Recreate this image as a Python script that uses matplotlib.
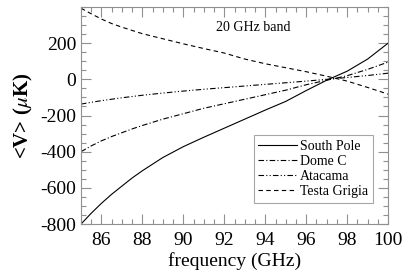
import numpy as np
import matplotlib
matplotlib.use("Agg")
import matplotlib.pyplot as plt
from matplotlib.ticker import MultipleLocator

plt.rcParams['font.family'] = ['Liberation Serif', 'DejaVu Serif']
plt.rcParams['mathtext.fontset'] = 'stix'
plt.rcParams['axes.unicode_minus'] = False

# valori
freq = [85, 85.5, 86, 86.5, 87, 87.5, 88, 89, 90, 91, 92, 93, 94, 95, 96, 97, 98, 99, 100]
south_pole = [-800, -740, -685, -635, -590, -545, -505, -432, -372, -320, -270, -220, -170, -122, -62, -5, 45, 112, 200]
dome_c = [-400, -368, -340, -316, -295, -274, -255, -220, -190, -160, -135, -110, -85, -60, -30, -5, 20, 55, 95]
atacama = [-137, -127, -118, -110, -102, -95, -88, -76, -65, -55, -46, -37, -28, -19, -10, 0, 10, 21, 34]
testa_grigia = [393, 362, 333, 308, 288, 270, 252, 224, 196, 170, 145, 112, 86, 64, 42, 17, -10, -45, -82]

fig = plt.figure(figsize=(4.09, 2.77), dpi=100)
ax = fig.add_axes([0.198, 0.191, 0.751, 0.784])

ax.plot(freq, south_pole, color='black', lw=0.8, ls='-', label='South Pole')
ax.plot(freq, dome_c, color='black', lw=0.8, ls=(0, (5, 2, 1, 2)), label='Dome C')
ax.plot(freq, atacama, color='black', lw=0.8, ls=(0, (5, 2, 1, 2, 1, 2)), label='Atacama')
ax.plot(freq, testa_grigia, color='black', lw=0.8, ls=(0, (4, 3)), label='Testa Grigia')

ax.set_xlim(85, 100)
ax.set_ylim(-800, 400)
ax.xaxis.set_major_locator(MultipleLocator(2))
ax.xaxis.set_minor_locator(MultipleLocator(0.5))
ax.yaxis.set_minor_locator(MultipleLocator(50))
ax.set_yticks([-800, -600, -400, -200, 0, 200])

for s in ax.spines.values():
    s.set_color('#909090')
    s.set_linewidth(0.8)
ax.tick_params(which='both', direction='in', top=True, right=True, color='#909090', labelsize=14)
ax.tick_params(which='major', length=7, width=0.8)
ax.tick_params(which='minor', length=3.5, width=0.8)
ax.tick_params(axis='x', pad=6)

ax.set_xlabel('frequency (GHz)', fontsize=14, labelpad=2)
ax.set_ylabel(r'<V> ($\mu$K)', fontsize=15, fontweight='bold', labelpad=4)

ax.text(93.4, 288, '20 GHz band', fontsize=10, ha='center', va='center')

leg = ax.legend(loc='lower right', bbox_to_anchor=(0.951, 0.097), fontsize=10, handlelength=2.75,
                frameon=True, fancybox=False, borderpad=0.35, labelspacing=0.15, handletextpad=0.25,
                borderaxespad=0)
leg.get_frame().set_edgecolor('#909090')
leg.get_frame().set_linewidth(0.8)

fig.savefig('out.png', dpi=100)
